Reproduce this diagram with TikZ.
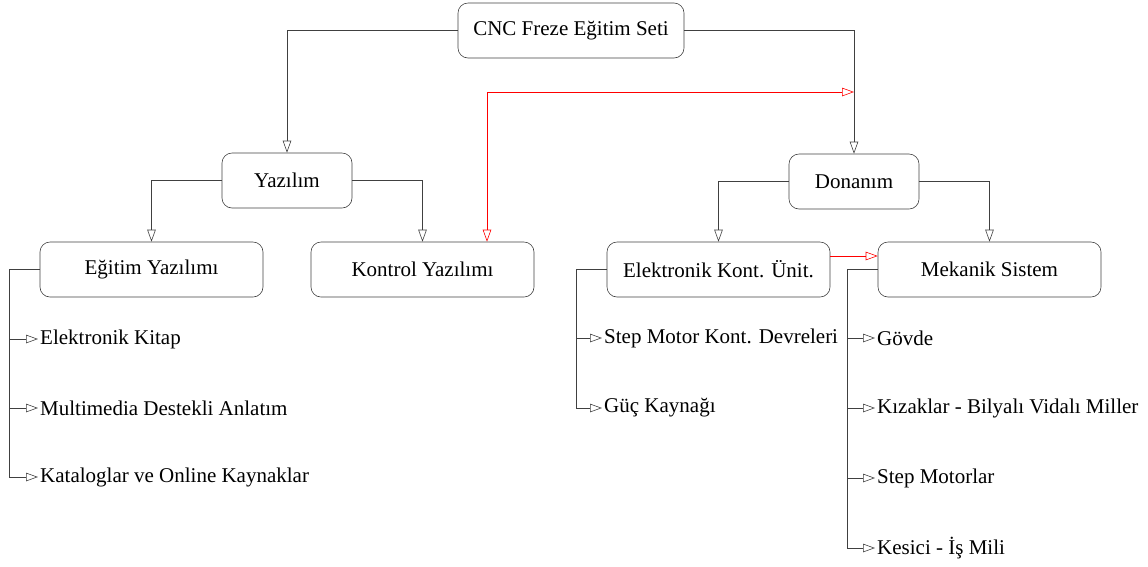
\documentclass[tikz,border=0pt]{standalone}
\usepackage{fontspec}
\setmainfont{Liberation Serif}
\usetikzlibrary{arrows.meta}
\tikzset{
  every node/.style={font=\fontsize{21}{24}\selectfont},
  box/.style={draw=black!75, line width=0.6pt, rounded corners=10pt, minimum height=55pt, minimum width=223pt, inner sep=0pt},
  leaf/.style={anchor=west, inner ysep=0pt, inner xsep=2pt},
  conn/.style={draw=black!75, line width=0.6pt, -{Triangle[open, length=12pt, width=8.5pt]}},
  redconn/.style={draw=red, line width=0.6pt, -{Triangle[open, length=12pt, width=8.5pt]}},
  redboth/.style={draw=red, line width=0.6pt, {Triangle[open, length=12pt, width=8.5pt]}-{Triangle[open, length=12pt, width=8.5pt]}}
}
\begin{document}
\begin{tikzpicture}[x=1pt,y=-1pt]
\useasboundingbox (0,0) rectangle (1148,566);
% main nodes
\node[box, minimum width=226pt] (cnc) at (571,30.5) {CNC Freze Eğitim Seti};
\node[box, minimum width=130pt] (yaz) at (287,180.5) {Yazılım};
\node[box, minimum width=130pt] (don) at (854,181.5) {Donanım};
\node[box] (egy) at (151.5,269.5) {Eğitim Yazılımı};
\node[box] (kon) at (422.5,269.5) {Kontrol Yazılımı};
\node[box] (ele) at (718.5,269.5) {Elektronik Kont. Ünit.};
\node[box] (mek) at (989.5,269.5) {Mekanik Sistem};
% leaves
\node[leaf] (e1) at (38,339) {Elektronik Kitap};
\node[leaf] (e2) at (38,408) {Multimedia Destekli Anlatım};
\node[leaf] (e3) at (38,477) {Kataloglar ve Online Kaynaklar};
\node[leaf] (k1) at (602,338) {Step Motor Kont. Devreleri};
\node[leaf] (k2) at (602,408) {Güç Kaynağı};
\node[leaf] (m1) at (875,338) {Gövde};
\node[leaf] (m2) at (875,408) {Kızaklar - Bilyalı Vidalı Miller};
\node[leaf] (m3) at (875,478) {Step Motorlar};
\node[leaf] (m4) at (875,548) {Kesici - İş Mili};
% tree connectors
\draw[conn] (cnc.west) -| (yaz.north);
\draw[conn] (cnc.east) -| (don.north);
\draw[conn] (yaz.west) -| (egy.north);
\draw[conn] (yaz.east) -| (kon.north);
\draw[conn] (don.west) -| (ele.north);
\draw[conn] (don.east) -| (mek.north);
% leaf trunks
\coordinate (et) at (9,269.5);
\draw[conn] (egy.west) -- (et) |- (e3.west);
\draw[conn] (et |- e1.west) -- (e1.west);
\draw[conn] (et |- e2.west) -- (e2.west);
\coordinate (kt) at (576,269.5);
\draw[conn] (ele.west) -- (kt) |- (k2.west);
\draw[conn] (kt |- k1.west) -- (k1.west);
\coordinate (mt) at (847,269.5);
\draw[conn] (mek.west) -- (mt) |- (m4.west);
\draw[conn] (mt |- m1.west) -- (m1.west);
\draw[conn] (mt |- m2.west) -- (m2.west);
\draw[conn] (mt |- m3.west) -- (m3.west);
% red links
\coordinate (rj) at (854,92);
\draw[redboth] ([xshift=64.5pt]kon.north) |- (rj);
\draw[redconn] ([yshift=13.5pt]ele.east) -- ([yshift=13.5pt]mek.west);
\end{tikzpicture}
\end{document}
